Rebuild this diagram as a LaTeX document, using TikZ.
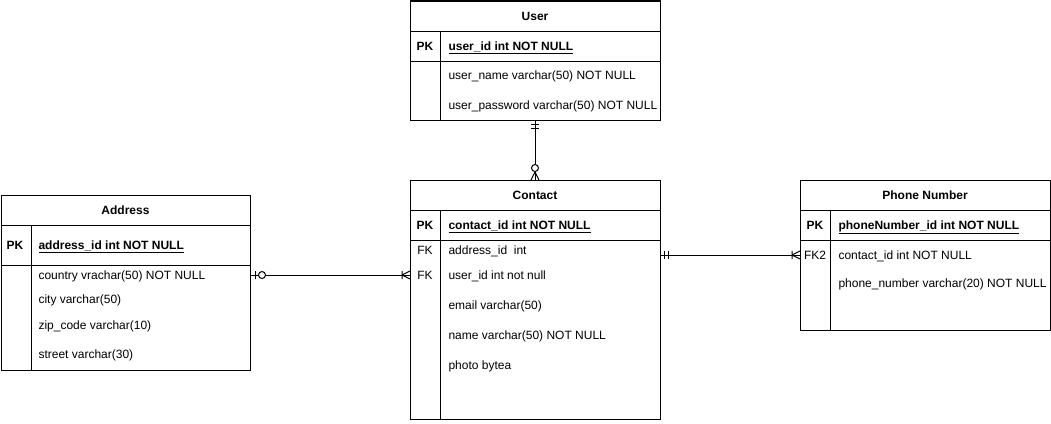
\documentclass[tikz,border=0pt]{standalone}
\usepackage{fontspec}
\setmainfont{Liberation Sans}
\usetikzlibrary{decorations.markings}
\newcommand{\erfont}{\fontsize{12}{14}\selectfont}

\begin{document}
\begin{tikzpicture}[x=1pt,y=-1pt,line width=1pt,
  entity/.style={draw,rectangle,anchor=north west,outer sep=0pt,inner sep=0pt},
  headtxt/.style={font=\erfont\bfseries,inner sep=0pt,text height=8.6pt,text depth=0pt},
  keytxt/.style={font=\erfont\bfseries,inner sep=0pt,text height=8.6pt,text depth=0pt},
  fktxt/.style={font=\erfont,inner sep=0pt,text height=8.6pt,text depth=0pt},
  fieldtxt/.style={font=\erfont,anchor=west,inner sep=0pt,text height=8.6pt,text depth=0pt},
  pkfield/.style={fieldtxt,font=\erfont\bfseries},
  mandone start/.style={postaction={decorate,decoration={markings,
    mark=at position 0 with {\draw (4.5pt,-4pt) -- (4.5pt,4pt) (8.5pt,-4pt) -- (8.5pt,4pt);}}}},
  zeroone start/.style={postaction={decorate,decoration={markings,
    mark=at position 0 with {\draw (5pt,-4pt) -- (5pt,4pt); \draw[fill=white] (12pt,0pt) circle (3.5pt);}}}},
  zeromany end/.style={postaction={decorate,decoration={markings,
    mark=at position 1 with {\draw (-8pt,0pt) -- (0pt,4pt) (-8pt,0pt) -- (0pt,-4pt); \draw[fill=white] (-12pt,0pt) circle (3.5pt);}}}},
  onemany end/.style={postaction={decorate,decoration={markings,
    mark=at position 1 with {\draw (-8pt,0pt) -- (0pt,4pt) (-8pt,0pt) -- (0pt,-4pt) (-8pt,-4pt) -- (-8pt,4pt);}}}}]
\useasboundingbox (0,0) rectangle (1051,423);

% User
\node[entity,minimum width=250,minimum height=119] (user) at (410,1) {};
\draw ([yshift=-30]user.north west) -- ([yshift=-30]user.north east);
\draw ([yshift=-60]user.north west) -- ([yshift=-60]user.north east);
\draw ([xshift=30,yshift=-30]user.north west) -- ([xshift=30]user.south west);
\node[headtxt] (userhead) at ([yshift=-15]user.north) {User};
\node[keytxt] (userpk) at (425,46) {PK};
\node[pkfield] (userid) at (448,46) {\underline{user\_id int NOT NULL}};
\node[fieldtxt] (username) at (448,75) {user\_name varchar(50) NOT NULL};
\node[fieldtxt] (userpass) at (448,105) {user\_password varchar(50) NOT NULL};

% Contact
\node[entity,minimum width=250,minimum height=239] (contact) at (410,180) {};
\draw ([yshift=-30]contact.north west) -- ([yshift=-30]contact.north east);
\draw ([yshift=-60]contact.north west) -- ([yshift=-60]contact.north east);
\draw ([xshift=30,yshift=-30]contact.north west) -- ([xshift=30]contact.south west);
\node[headtxt] (contacthead) at ([yshift=-15]contact.north) {Contact};
\node[keytxt] (contactpk) at (425,225) {PK};
\node[pkfield] (contactid) at (448,225) {\underline{contact\_id int NOT NULL}};
\node[fktxt] (contactfka) at (425,250) {FK};
\node[fieldtxt] (caddress) at (448,250) {address\_id~ int};
\node[fktxt] (contactfku) at (425,275) {FK};
\node[fieldtxt] (cuser) at (448,275) {user\_id int not null};
\node[fieldtxt] (cemail) at (448,305) {email varchar(50)};
\node[fieldtxt] (cname) at (448,335) {name varchar(50) NOT NULL};
\node[fieldtxt] (cphoto) at (448,365) {photo bytea};

% Address
\node[entity,minimum width=249,minimum height=175] (address) at (1,195) {};
\draw ([yshift=-30]address.north west) -- ([yshift=-30]address.north east);
\draw ([yshift=-70]address.north west) -- ([yshift=-70]address.north east);
\draw ([xshift=30,yshift=-30]address.north west) -- ([xshift=30]address.south west);
\node[headtxt] (addresshead) at ([yshift=-15]address.north) {Address};
\node[keytxt] (addresspk) at (15,245) {PK};
\node[pkfield] (addressid) at (38,245) {\underline{address\_id int NOT NULL}};
\node[fieldtxt] (country) at (38,275) {country vrachar(50) NOT NULL};
\node[fieldtxt] (city) at (38,299) {city varchar(50)};
\node[fieldtxt] (zip) at (38,325) {zip\_code varchar(10)};
\node[fieldtxt] (street) at (38,354) {street varchar(30)};

% Phone Number
\node[entity,minimum width=250,minimum height=150] (phone) at (800,180) {};
\draw ([yshift=-30]phone.north west) -- ([yshift=-30]phone.north east);
\draw ([yshift=-60]phone.north west) -- ([yshift=-60]phone.north east);
\draw ([xshift=30,yshift=-30]phone.north west) -- ([xshift=30]phone.south west);
\node[headtxt] (phonehead) at ([yshift=-15]phone.north) {Phone Number};
\node[keytxt] (phonepk) at (815,225) {PK};
\node[pkfield] (phoneid) at (838,225) {\underline{phoneNumber\_id int NOT NULL}};
\node[fktxt] (phonefk) at (815,255) {FK2};
\node[fieldtxt] (pcontact) at (838,255) {contact\_id int NOT NULL};
\node[fieldtxt] (pnumber) at (838,283) {phone\_number varchar(20) NOT NULL};

% relations
\draw[mandone start,zeromany end] (user.south) -- (contact.north);
\draw[zeroone start,onemany end] (country -| address.east) -- (country -| contact.west);
\draw[mandone start,onemany end] (pcontact -| contact.east) -- (pcontact -| phone.west);
\end{tikzpicture}
\end{document}
